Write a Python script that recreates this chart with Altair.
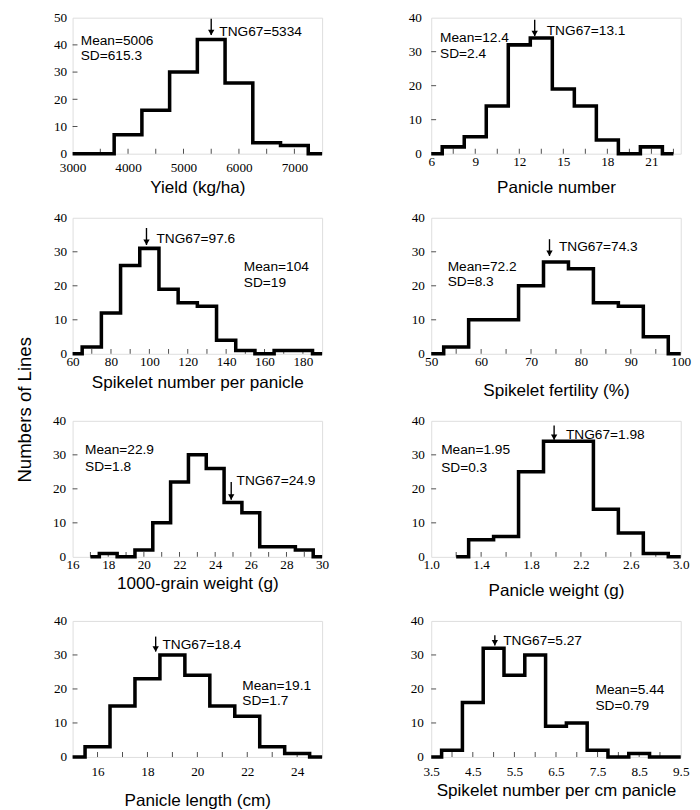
import altair as alt
import pandas as pd

# ---------------- data ----------------
titles = ["Yield (kg/ha)", "Panicle number", "Spikelet number per panicle",
          "Spikelet fertility (%)", "1000-grain weight (g)", "Panicle weight (g)",
          "Panicle length (cm)", "Spikelet number per cm panicle"]

# bin centres and counts (histogram outlines)
yield_x = [3000, 3500, 4000, 4500, 5000, 5500, 6000, 6500, 7000, 7500]
yield_n = [0, 0, 7, 16, 30, 42, 26, 4, 3, 0]
pnum_x = [6, 7.5, 9, 10.5, 12, 13.5, 15, 16.5, 18, 19.5, 21, 22.5]
pnum_n = [0, 2, 5, 14, 32, 34, 19, 14, 4, 0, 2, 0]
spp_x = [60, 70, 80, 90, 100, 110, 120, 130, 140, 150, 160, 170, 180, 190]
spp_n = [0, 2, 12, 26, 31, 19, 15, 14, 4, 1, 0, 1, 1, 0]
fert_x = [50, 55, 60, 65, 70, 75, 80, 85, 90, 95, 100]
fert_n = [0, 2, 10, 10, 20, 27, 25, 15, 14, 5, 0]
tgw_x = [17, 18, 19, 20, 21, 22, 23, 24, 25, 26, 27, 28, 29, 30]
tgw_n = [0, 1, 0, 2, 10, 22, 30, 26, 16, 13, 3, 3, 2, 0]
pw_x = [1.2, 1.4, 1.6, 1.8, 2.0, 2.2, 2.4, 2.6, 2.8, 3.0]
pw_n = [0, 5, 6, 25, 34, 34, 14, 7, 1, 0]
pl_x = [15, 16, 17, 18, 19, 20, 21, 22, 23, 24, 25]
pl_n = [0, 3, 15, 23, 30, 24, 15, 12, 3, 1, 0]
spc_x = [3.5, 4.0, 4.5, 5.0, 5.5, 6.0, 6.5, 7.0, 7.5, 8.0, 8.5, 9.0, 9.5]
spc_n = [0, 2, 16, 32, 24, 30, 9, 10, 2, 0, 1, 0, 0]

hist_x = [yield_x, pnum_x, spp_x, fert_x, tgw_x, pw_x, pl_x, spc_x]
hist_n = [yield_n, pnum_n, spp_n, fert_n, tgw_n, pw_n, pl_n, spc_n]

# axis domains, labelled ticks, all tick marks
x_domains = [[3000, 7500], [6, 23], [60, 190], [50, 100], [16, 30], [1.0, 3.0], [15, 25], [3.5, 9.5]]
x_labels = [[3000, 4000, 5000, 6000, 7000], [6, 9, 12, 15, 18, 21],
            [60, 80, 100, 120, 140, 160, 180], [50, 60, 70, 80, 90, 100],
            [16, 18, 20, 22, 24, 26, 28, 30], [1.0, 1.4, 1.8, 2.2, 2.6, 3.0],
            [16, 18, 20, 22, 24], [3.5, 4.5, 5.5, 6.5, 7.5, 8.5, 9.5]]
x_ticks = [[3500, 4000, 4500, 5000, 5500, 6000, 6500, 7000],
           [7.5, 9, 10.5, 12, 13.5, 15, 16.5, 18, 19.5, 21, 22.5],
           [70, 80, 90, 100, 110, 120, 130, 140, 150, 160, 170, 180],
           [55, 60, 65, 70, 75, 80, 85, 90, 95],
           [17, 18, 19, 20, 21, 22, 23, 24, 25, 26, 27, 28, 29],
           [1.2, 1.4, 1.6, 1.8, 2.0, 2.2, 2.4, 2.6, 2.8],
           [16, 17, 18, 19, 20, 21, 22, 23, 24],
           [4.0, 4.5, 5.0, 5.5, 6.0, 6.5, 7.0, 7.5, 8.0, 8.5, 9.0]]
x_formats = ["d", "d", "d", "d", "d", ".1f", "d", ".1f"]
y_max = [50, 40, 40, 40, 40, 40, 40, 40]
y_ticks = [[10, 20, 30, 40], [10, 20, 30], [10, 20, 30], [10, 20, 30],
           [10, 20, 30], [10, 20, 30], [10, 20, 30], [10, 20, 30]]

# TNG67 arrow: x, top, tip
arrow_x = [5500, 13.05, 98.5, 73.7, 24.9, 1.985, 18.33, 5.03]
arrow_top = [49.6, 39.4, 37.0, 33.7, 22.0, 38.6, 35.4, 35.8]
arrow_tip = [43.6, 34.6, 32.0, 28.8, 16.8, 34.4, 31.0, 32.8]

# annotation texts and anchors (left edge x, vertical centre y)
tng_text = ["TNG67=5334", "TNG67=13.1", "TNG67=97.6", "TNG67=74.3",
            "TNG67=24.9", "TNG67=1.98", "TNG67=18.4", "TNG67=5.27"]
tng_x = [5647, 13.87, 103.7, 75.6, 25.2, 2.08, 18.6, 5.23]
tng_y = [44.6, 36.0, 33.8, 31.3, 22.2, 35.7, 33.0, 34.0]
mean_text = ["Mean=5006", "Mean=12.4", "Mean=104", "Mean=72.2",
             "Mean=22.9", "Mean=1.95", "Mean=19.1", "Mean=5.44"]
sd_text = ["SD=615.3", "SD=2.4", "SD=19", "SD=8.3", "SD=1.8", "SD=0.3", "SD=1.7", "SD=0.79"]
stat_x = [3147, 6.6, 149.2, 53.3, 16.7, 1.08, 21.8, 7.45]
mean_y = [41.4, 33.9, 25.4, 25.6, 31.5, 31.5, 20.8, 19.8]
sd_y = [35.9, 29.3, 20.9, 21.0, 26.3, 26.0, 16.3, 15.1]

# ---------------- chart ----------------
W, H = 255, 139
FONT = "Liberation Sans"
NARROW = "Liberation Sans Narrow"
LABEL_PAD = [7, 1, 1, 1, 1, 1, 8, 8]
TITLE_PAD = [5, 11, 6, 14, 4, 11, 14, 4]
Y_PAD = [6, 10, 6, 7, 7, 7, 6, 8]


def panel(i):
    xs = alt.Scale(domain=x_domains[i], nice=False, zero=False)
    ys = alt.Scale(domain=[0, y_max[i]], nice=False)
    xa = alt.Axis(values=x_labels[i], format=x_formats[i], ticks=False, tickSize=0,
                  domain=False, grid=False, labelFont=NARROW, labelFontSize=13.5,
                  labelColor="black", labelPadding=LABEL_PAD[i], labelFlush=False,
                  title=titles[i], titleFont=FONT, titleFontSize=17.5,
                  titleFontWeight="normal", titleColor="black", titlePadding=TITLE_PAD[i])
    ya = alt.Axis(values=list(range(0, y_max[i] + 1, 10)), ticks=False, tickSize=0,
                  domain=False, grid=False, labelFont=NARROW, labelFontSize=13.5,
                  labelColor="black", labelPadding=Y_PAD[i], title=None)

    hist = pd.DataFrame({"x": hist_x[i], "n": hist_n[i]})
    xt = pd.DataFrame({"x": x_ticks[i]})
    yt = pd.DataFrame({"n": y_ticks[i]})
    arr = pd.DataFrame({"x": [arrow_x[i]], "n": [arrow_top[i]], "n2": [arrow_tip[i]]})
    ann = pd.DataFrame({"x": [tng_x[i], stat_x[i], stat_x[i]],
                        "n": [tng_y[i], mean_y[i], sd_y[i]],
                        "label": [tng_text[i], mean_text[i], sd_text[i]]})

    X = lambda f="x": alt.X(f"{f}:Q", scale=xs, axis=xa)
    Y = lambda f="n": alt.Y(f"{f}:Q", scale=ys, axis=ya)

    line = alt.Chart(hist).mark_line(interpolate="step", color="black", strokeWidth=3.6,
                                     strokeJoin="miter", strokeCap="butt").encode(x=X(), y=Y())
    xtick = alt.Chart(xt).mark_tick(orient="vertical", color="black", size=5,
                                    thickness=1).encode(x=X(), y=alt.value(H - 2.5))
    ytick = alt.Chart(yt).mark_tick(orient="horizontal", color="black", size=5,
                                    thickness=1).encode(y=Y(), x=alt.value(2.5))
    shaft = alt.Chart(arr).mark_rule(color="black", strokeWidth=1.4).encode(
        x=X(), y=Y(), y2=alt.Y2("n2:Q"))
    head = alt.Chart(arr).mark_point(shape="triangle-down", filled=True, color="black",
                                     opacity=1, size=42, yOffset=-2.7).encode(
        x=X(), y=alt.Y("n2:Q", scale=ys, axis=ya))
    text = alt.Chart(ann).mark_text(align="left", baseline="middle", font=FONT,
                                    fontSize=14, color="black").encode(
        x=X(), y=Y(), text="label:N")
    return alt.layer(line, xtick, ytick, shaft, head, text).properties(width=W, height=H)


chart = alt.concat(
    *[panel(i) for i in range(8)], columns=2,
    spacing={"row": 13.5, "column": 79.5},
    title=alt.TitleParams(text="Numbers of Lines", orient="left", anchor="middle",
                          font=FONT, fontSize=19, fontWeight="normal", color="black",
                          offset=18),
).properties(
    padding={"left": 7, "top": -7, "right": 0, "bottom": 0}
).configure_view(
    stroke="#333333", strokeWidth=1
).configure(background="white")

chart.save("out.html", embed_options={"renderer": "svg", "actions": False})
